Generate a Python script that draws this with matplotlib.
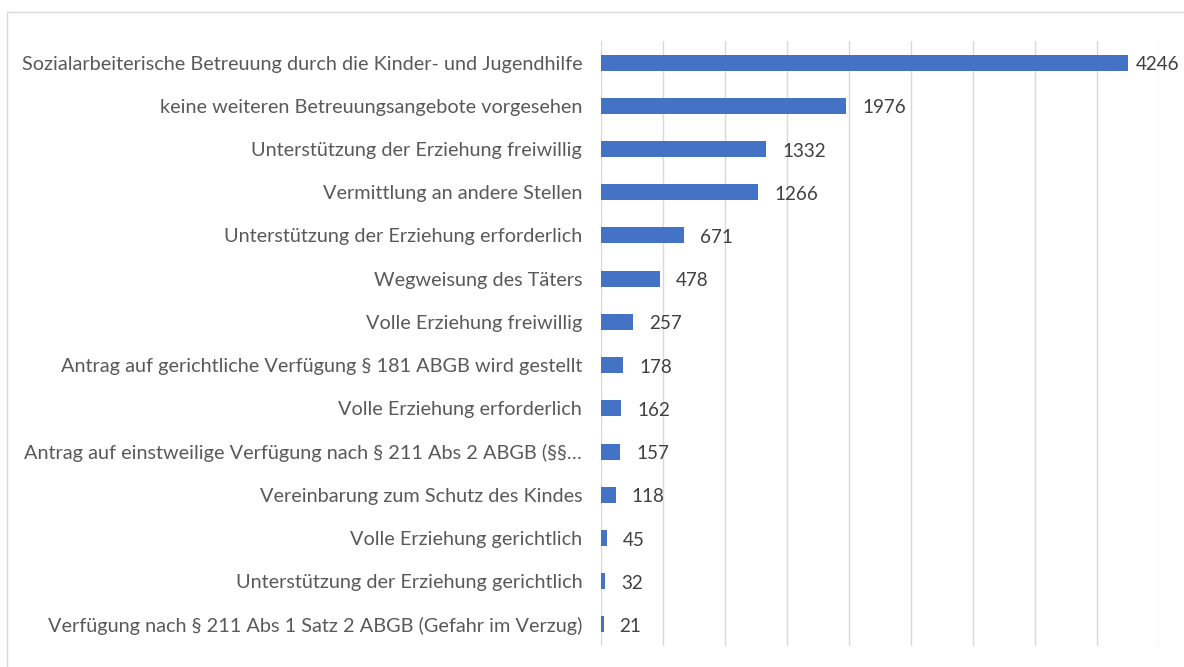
import matplotlib
matplotlib.use("Agg")
import matplotlib.pyplot as plt
from matplotlib.patches import Rectangle

categories = [
    "Sozialarbeiterische Betreuung durch die Kinder- und Jugendhilfe",
    "keine weiteren Betreuungsangebote vorgesehen",
    "Unterstützung der Erziehung freiwillig",
    "Vermittlung an andere Stellen",
    "Unterstützung der Erziehung erforderlich",
    "Wegweisung des Täters",
    "Volle Erziehung freiwillig",
    "Antrag auf gerichtliche Verfügung § 181 ABGB wird gestellt",
    "Volle Erziehung erforderlich",
    "Antrag auf einstweilige Verfügung nach § 211 Abs 2 ABGB (§§…",
    "Vereinbarung zum Schutz des Kindes",
    "Volle Erziehung gerichtlich",
    "Unterstützung der Erziehung gerichtlich",
    "Verfügung nach § 211 Abs 1 Satz 2 ABGB (Gefahr im Verzug)",
]
values = [4246, 1976, 1332, 1266, 671, 478, 257, 178, 162, 157, 118, 45, 32, 21]

W, H = 1184, 667
fig = plt.figure(figsize=(W / 100, H / 100), dpi=100)
fig.patch.set_facecolor("white")

# outer frame (cut off at right/bottom)
fig.patches.append(Rectangle((7 / W, -0.05), 1.1, 1 - 12 / H + 0.05,
                             transform=fig.transFigure, fill=False,
                             edgecolor="#D9D9D9", linewidth=1.0))

x0, x1 = 601, 1159
y_top, y_bot = 41, 646
ax = fig.add_axes([x0 / W, 1 - y_bot / H, (x1 - x0) / W, (y_bot - y_top) / H])

n = len(categories)
pos = list(range(n))
ax.barh(pos, values, height=0.37, color="#4472C4", zorder=3)
ax.set_ylim(n - 0.5, -0.5)
ax.set_xlim(0, 4500)
ax.set_xticks(range(0, 4501, 500))
ax.set_xticklabels([])
ax.tick_params(axis="x", length=0)
ax.grid(axis="x", color="#D9D9D9", linewidth=1.0, zorder=0)
for s in ax.spines.values():
    s.set_visible(False)

ax.set_yticks(pos)
ax.set_yticklabels(categories, fontsize=14.3, color="#595959", family="Lato")
ax.tick_params(axis="y", length=0, pad=13.5)

anns = []
for p, v in zip(pos, values):
    a = ax.annotate(str(v), (v, p), xytext=(11.5, -1.5), textcoords="offset points",
                    va="center", ha="left", fontsize=13.6, color="#404040",
                    family="Lato")
    anns.append(a)

# keep labels inside the chart area (like Excel does)
fig.canvas.draw()
renderer = fig.canvas.get_renderer()
limit = W - 5
for a in anns:
    bb = a.get_window_extent(renderer)
    if bb.x1 > limit:
        shift_pt = (bb.x1 - limit) * 72 / fig.dpi
        a.xyann = (a.xyann[0] - shift_pt, a.xyann[1])

fig.savefig("out.png", dpi=100, facecolor="white")
